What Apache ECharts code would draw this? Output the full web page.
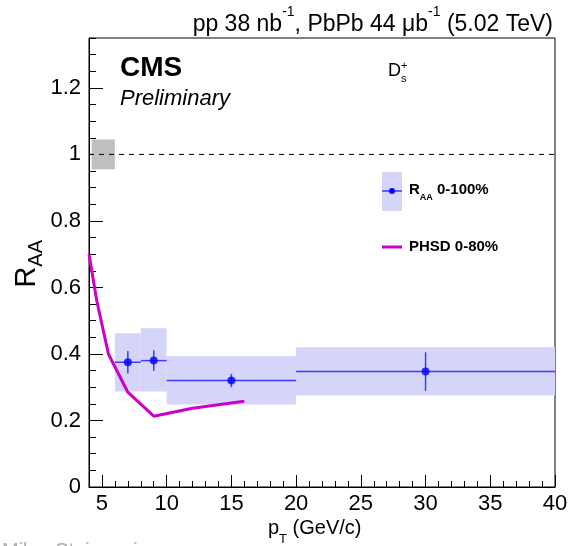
<!DOCTYPE html>
<html>
<head>
<meta charset="utf-8">
<script src="https://cdn.jsdelivr.net/npm/echarts@6/dist/echarts.min.js"></script>
<style>
  html, body { margin: 0; padding: 0; background: #fff; }
  #chart { width: 571px; height: 546px; }
</style>
</head>
<body>
<div id="chart"></div>
<script>
// D_s+ RAA vs pT, CMS preliminary
var binLo = [6, 8, 10, 20];
var binHi = [8, 10, 20, 40];
var ptCenter = [7, 9, 15, 30];
var raa = [0.375, 0.38, 0.32, 0.347];
var statErr = [0.034, 0.031, 0.02, 0.058];
var sysLo = [0.287, 0.287, 0.248, 0.275];
var sysHi = [0.462, 0.477, 0.393, 0.42];

var phsdPt = [4, 4.6, 5.5, 7, 9, 12, 16];
var phsdRaa = [0.70, 0.56, 0.40, 0.285, 0.213, 0.237, 0.258];

// global normalisation uncertainty box around 1
var globBox = [4.2, 6, 0.955, 1.045];

var xMajor = [5, 10, 15, 20, 25, 30, 35, 40];
var xMinor = [4, 5, 6, 7, 8, 9, 10, 11, 12, 13, 14, 15, 16, 17, 18, 19, 20, 21, 22, 23, 24, 25,
  26, 27, 28, 29, 30, 31, 32, 33, 34, 35, 36, 37, 38, 39, 40];
var yMajor = [0, 0.2, 0.4, 0.6, 0.8, 1, 1.2];
var yMinor = [0, 0.05, 0.1, 0.15, 0.2, 0.25, 0.3, 0.35, 0.4, 0.45, 0.5, 0.55, 0.6, 0.65, 0.7,
  0.75, 0.8, 0.85, 0.9, 0.95, 1, 1.05, 1.1, 1.15, 1.2, 1.25, 1.3, 1.35];

var FONT = "Liberation Sans, Helvetica, Arial, sans-serif";

var chart = echarts.init(document.getElementById("chart"));

function rectItem(params, api) {
  var p0 = api.coord([api.value(0), api.value(3)]);
  var p1 = api.coord([api.value(1), api.value(2)]);
  return {
    type: "rect",
    shape: { x: p0[0], y: p0[1], width: p1[0] - p0[0], height: p1[1] - p0[1] },
    style: { fill: api.visual("color") }
  };
}

var sysData = binLo.map(function (lo, i) { return [lo, binHi[i], sysLo[i], sysHi[i]]; });
var errData = binLo.map(function (lo, i) {
  return [lo, binHi[i], ptCenter[i], raa[i], statErr[i]];
});

var option = {
  animation: false,
  grid: {
    left: 89, right: 16, top: 38, bottom: 59,
    show: true, borderColor: "#000", borderWidth: 1, backgroundColor: "transparent"
  },
  xAxis: [{
    type: "value", min: 4, max: 40, position: "bottom",
    axisLine: { lineStyle: { color: "#000" } },
    splitLine: { show: false },
    axisTick: { inside: true, length: 12, customValues: xMajor, lineStyle: { color: "#000" } },
    axisLabel: { customValues: xMajor, color: "#000", fontSize: 22, fontFamily: FONT, margin: 6 }
  }, {
    type: "value", min: 4, max: 40, position: "bottom",
    axisLine: { show: false },
    splitLine: { show: false },
    axisTick: { inside: true, length: 6, customValues: xMinor, lineStyle: { color: "#000" } },
    axisLabel: { show: false }
  }],
  yAxis: [{
    type: "value", min: 0, max: 1.35,
    axisLine: { show: true, lineStyle: { color: "#000" } },
    splitLine: { show: false },
    axisTick: { show: true, inside: true, length: 14, customValues: yMajor, lineStyle: { color: "#000" } },
    axisLabel: { customValues: yMajor, color: "#000", fontSize: 22, fontFamily: FONT, margin: 8 }
  }, {
    type: "value", min: 0, max: 1.35, position: "left",
    axisLine: { show: false },
    splitLine: { show: false },
    axisTick: { show: true, inside: true, length: 7, customValues: yMinor, lineStyle: { color: "#000" } },
    axisLabel: { show: false }
  }],
  series: [
    {
      type: "custom", renderItem: rectItem, itemStyle: { color: "#bfbfbf" },
      data: [globBox], z: 1
    },
    {
      type: "line", data: [[4, 1], [40, 1]], symbol: "none",
      lineStyle: { color: "#000", width: 1, type: [5, 5] }, z: 2
    },
    {
      type: "custom", renderItem: rectItem, itemStyle: { color: "#d5d5fa" },
      data: sysData, z: 3
    },
    {
      type: "custom", z: 4,
      data: errData,
      renderItem: function (params, api) {
        var y = api.value(3), e = api.value(4), xc = api.value(2);
        var a = api.coord([api.value(0), y]);
        var b = api.coord([api.value(1), y]);
        var c = api.coord([xc, y + e]);
        var d = api.coord([xc, y - e]);
        var st = { stroke: "#3b3bff", lineWidth: 1.5 };
        return {
          type: "group",
          children: [
            { type: "line", shape: { x1: a[0], y1: a[1], x2: b[0], y2: b[1] }, style: st },
            { type: "line", shape: { x1: c[0], y1: c[1], x2: d[0], y2: d[1] }, style: st }
          ]
        };
      }
    },
    {
      type: "scatter", z: 5, symbol: "circle", symbolSize: 8,
      itemStyle: { color: "#0000ff" },
      data: ptCenter.map(function (x, i) { return [x, raa[i]]; })
    },
    {
      type: "line", z: 6, symbol: "none",
      lineStyle: { color: "#cc00cc", width: 3 },
      data: phsdPt.map(function (x, i) { return [x, phsdRaa[i]]; })
    }
  ],
  graphic: [
    {
      type: "text", right: 18, top: 5,
      style: {
        text: "{n|pp 38 nb}{s|-1}{n|, PbPb 44 \u03bcb}{s|-1}{n| (5.02 TeV)}",
        rich: {
          n: { fontSize: 23, fontFamily: FONT, fill: "#000", lineHeight: 31, verticalAlign: "bottom" },
          s: { fontSize: 14, fontFamily: FONT, fill: "#000", lineHeight: 31, verticalAlign: "top" }
        }
      }
    },
    {
      type: "text", left: 120, top: 54,
      style: { text: "CMS", font: "bold 28px " + FONT, fill: "#000" }
    },
    {
      type: "text", left: 120, top: 88,
      style: { text: "Preliminary", font: "italic 22px " + FONT, fill: "#000" }
    },
    {
      type: "text", left: 388, top: 60,
      style: {
        text: "{d|D}{s|+}",
        rich: {
          d: { fontSize: 18, fontFamily: FONT, fill: "#000" },
          s: { fontSize: 11, fontFamily: FONT, fill: "#000", verticalAlign: "top", lineHeight: 22 }
        }
      }
    },
    {
      type: "text", left: 401, top: 73,
      style: { text: "s", font: "11px " + FONT, fill: "#000" }
    },
    // legend
    { type: "rect", shape: { x: 382, y: 172, width: 20, height: 39 }, style: { fill: "#d5d5fa" } },
    { type: "line", shape: { x1: 382, y1: 191, x2: 402, y2: 191 }, style: { stroke: "#3b3bff", lineWidth: 1.5 } },
    { type: "circle", shape: { cx: 392, cy: 191, r: 3 }, style: { fill: "#0000ff" } },
    {
      type: "text", left: 409, top: 182,
      style: {
        text: "{r|R}{s|AA}{r| 0-100%}",
        rich: {
          r: { font: "bold 15px " + FONT, fill: "#000", verticalAlign: "top", lineHeight: 20 },
          s: { font: "bold 9px " + FONT, fill: "#000", verticalAlign: "bottom", lineHeight: 20 }
        }
      }
    },
    { type: "line", shape: { x1: 382, y1: 247, x2: 402, y2: 247 }, style: { stroke: "#cc00cc", lineWidth: 3 } },
    {
      type: "text", left: 409, top: 239,
      style: { text: "PHSD 0-80%", font: "bold 15px " + FONT, fill: "#000" }
    },
    // axis titles
    {
      type: "text", left: 12, top: 240, rotation: Math.PI / 2,
      style: {
        text: "{r|R}{s|AA}",
        rich: {
          r: { fontSize: 29, fontFamily: FONT, fill: "#000", lineHeight: 34, verticalAlign: "top" },
          s: { fontSize: 20, fontFamily: FONT, fill: "#000", lineHeight: 34, verticalAlign: "bottom" }
        }
      }
    },
    {
      type: "text", left: 268, top: 518,
      style: {
        text: "{r|p}{s|T}{r| (GeV/c)}",
        rich: {
          r: { fontSize: 20, fontFamily: FONT, fill: "#000", lineHeight: 28, verticalAlign: "top" },
          s: { fontSize: 13, fontFamily: FONT, fill: "#000", lineHeight: 28, verticalAlign: "bottom" }
        }
      }
    },
    {
      type: "text", left: 2, top: 541,
      style: { text: "Milan Stojanovic", font: "20px " + FONT, fill: "#aaa" }
    }
  ]
};

chart.setOption(option);
</script>
</body>
</html>
